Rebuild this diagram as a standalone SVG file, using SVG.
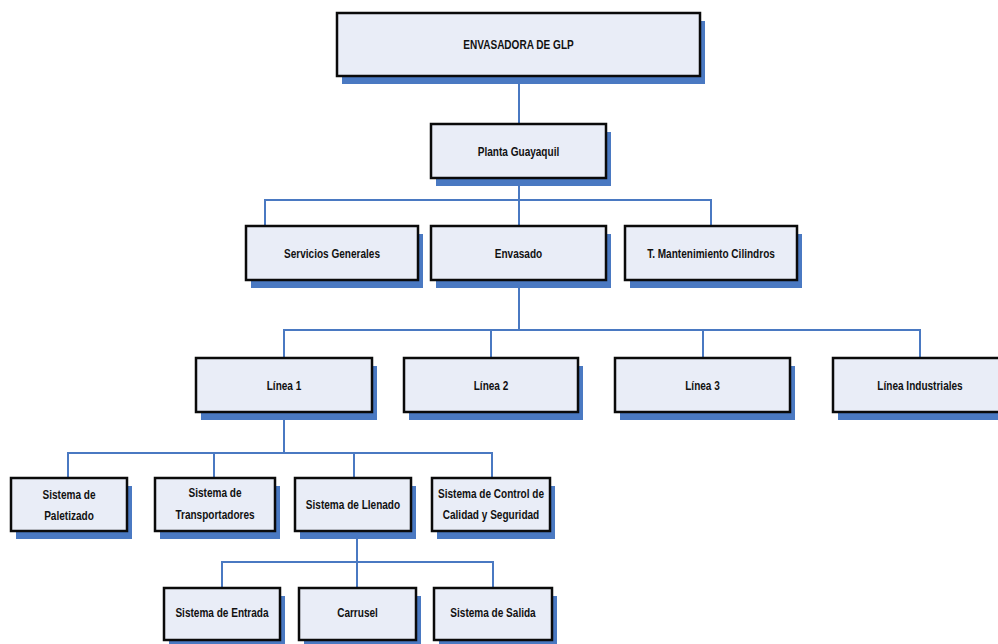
<svg xmlns="http://www.w3.org/2000/svg" width="998" height="644" viewBox="0 0 998 644">
  <defs>
    <style>
      .box { fill: #E9EDF7; stroke: #0A0A0A; stroke-width: 2.5; }
      .shadow { fill: #4A79C2; }
      .wire { fill: none; stroke: #4A79C2; stroke-width: 2; }
      .lbl { font-family: "Liberation Sans", Arial, sans-serif; font-weight: bold; font-size: 13.4px; fill: #111; text-anchor: middle; }
    </style>
  </defs>
  <rect width="998" height="644" fill="#FFFFFF"/>

  <!-- connectors -->
  <g id="connectors">
    <path class="wire" d="M519 76 V124"/>
    <path class="wire" d="M519 178 V226 M265 226 V200 H711 V226"/>
    <path class="wire" d="M519 280 V330 M284 358 V330 H920 V358 M491 330 V358 M703 330 V358"/>
    <path class="wire" d="M284 412 V453 M68 478 V453 H492 V478 M214 453 V478 M354 453 V478"/>
    <path class="wire" d="M357 531 V588 M222 588 V562 H493 V588"/>
  </g>

  <!-- labels are set in a condensed face: horizontal scale 0.75 about each label centre -->
  <g id="envasadora">
    <rect class="shadow" x="342" y="21" width="363" height="63"/>
    <rect class="box" x="337" y="13" width="363" height="63"/>
    <text class="lbl" transform="translate(518.5 49) scale(0.75 1)">ENVASADORA DE GLP</text>
  </g>

  <g id="planta-guayaquil">
    <rect class="shadow" x="436" y="132" width="175" height="54"/>
    <rect class="box" x="431" y="124" width="175" height="54"/>
    <text class="lbl" transform="translate(518.5 156) scale(0.75 1)">Planta Guayaquil</text>
  </g>

  <g id="servicios-generales">
    <rect class="shadow" x="251" y="234" width="172" height="54"/>
    <rect class="box" x="246" y="226" width="172" height="54"/>
    <text class="lbl" transform="translate(332 258) scale(0.75 1)">Servicios Generales</text>
  </g>

  <g id="envasado">
    <rect class="shadow" x="436" y="234" width="175" height="54"/>
    <rect class="box" x="431" y="226" width="175" height="54"/>
    <text class="lbl" transform="translate(518.5 258) scale(0.75 1)">Envasado</text>
  </g>

  <g id="mantenimiento-cilindros">
    <rect class="shadow" x="630" y="234" width="172" height="54"/>
    <rect class="box" x="625" y="226" width="172" height="54"/>
    <text class="lbl" transform="translate(711 258) scale(0.75 1)">T. Mantenimiento Cilindros</text>
  </g>

  <g id="linea-1">
    <rect class="shadow" x="201" y="366" width="176" height="54"/>
    <rect class="box" x="196" y="358" width="176" height="54"/>
    <text class="lbl" transform="translate(284 390) scale(0.75 1)">Línea 1</text>
  </g>

  <g id="linea-2">
    <rect class="shadow" x="409" y="366" width="174" height="54"/>
    <rect class="box" x="404" y="358" width="174" height="54"/>
    <text class="lbl" transform="translate(491 390) scale(0.75 1)">Línea 2</text>
  </g>

  <g id="linea-3">
    <rect class="shadow" x="620" y="366" width="175" height="54"/>
    <rect class="box" x="615" y="358" width="175" height="54"/>
    <text class="lbl" transform="translate(702.5 390) scale(0.75 1)">Línea 3</text>
  </g>

  <g id="linea-industriales">
    <rect class="shadow" x="838" y="366" width="178" height="54"/>
    <rect class="box" x="833" y="358" width="178" height="54"/>
    <text class="lbl" transform="translate(920 390) scale(0.75 1)">Línea Industriales</text>
  </g>

  <g id="sistema-paletizado">
    <rect class="shadow" x="16" y="486" width="116" height="53"/>
    <rect class="box" x="11" y="478" width="116" height="53"/>
    <text class="lbl" transform="translate(69 499) scale(0.75 1)">Sistema de</text>
    <text class="lbl" transform="translate(69 520) scale(0.75 1)">Paletizado</text>
  </g>

  <g id="sistema-transportadores">
    <rect class="shadow" x="160" y="486" width="120" height="53"/>
    <rect class="box" x="155" y="478" width="120" height="53"/>
    <text class="lbl" transform="translate(215 497) scale(0.75 1)">Sistema de</text>
    <text class="lbl" transform="translate(215 519) scale(0.75 1)">Transportadores</text>
  </g>

  <g id="sistema-llenado">
    <rect class="shadow" x="300" y="486" width="116" height="53"/>
    <rect class="box" x="295" y="478" width="116" height="53"/>
    <text class="lbl" transform="translate(353 509) scale(0.75 1)">Sistema de Llenado</text>
  </g>

  <g id="sistema-control">
    <rect class="shadow" x="437" y="486" width="118" height="53"/>
    <rect class="box" x="432" y="478" width="118" height="53"/>
    <text class="lbl" transform="translate(491 498) scale(0.75 1)">Sistema de Control de</text>
    <text class="lbl" transform="translate(491 519) scale(0.75 1)">Calidad y Seguridad</text>
  </g>

  <g id="sistema-entrada">
    <rect class="shadow" x="169" y="596" width="116" height="52"/>
    <rect class="box" x="164" y="588" width="116" height="52"/>
    <text class="lbl" transform="translate(222 617) scale(0.75 1)">Sistema de Entrada</text>
  </g>

  <g id="carrusel">
    <rect class="shadow" x="304" y="596" width="117" height="52"/>
    <rect class="box" x="299" y="588" width="117" height="52"/>
    <text class="lbl" transform="translate(357.5 617) scale(0.75 1)">Carrusel</text>
  </g>

  <g id="sistema-salida">
    <rect class="shadow" x="439" y="596" width="118" height="52"/>
    <rect class="box" x="434" y="588" width="118" height="52"/>
    <text class="lbl" transform="translate(493 617) scale(0.75 1)">Sistema de Salida</text>
  </g>
</svg>
